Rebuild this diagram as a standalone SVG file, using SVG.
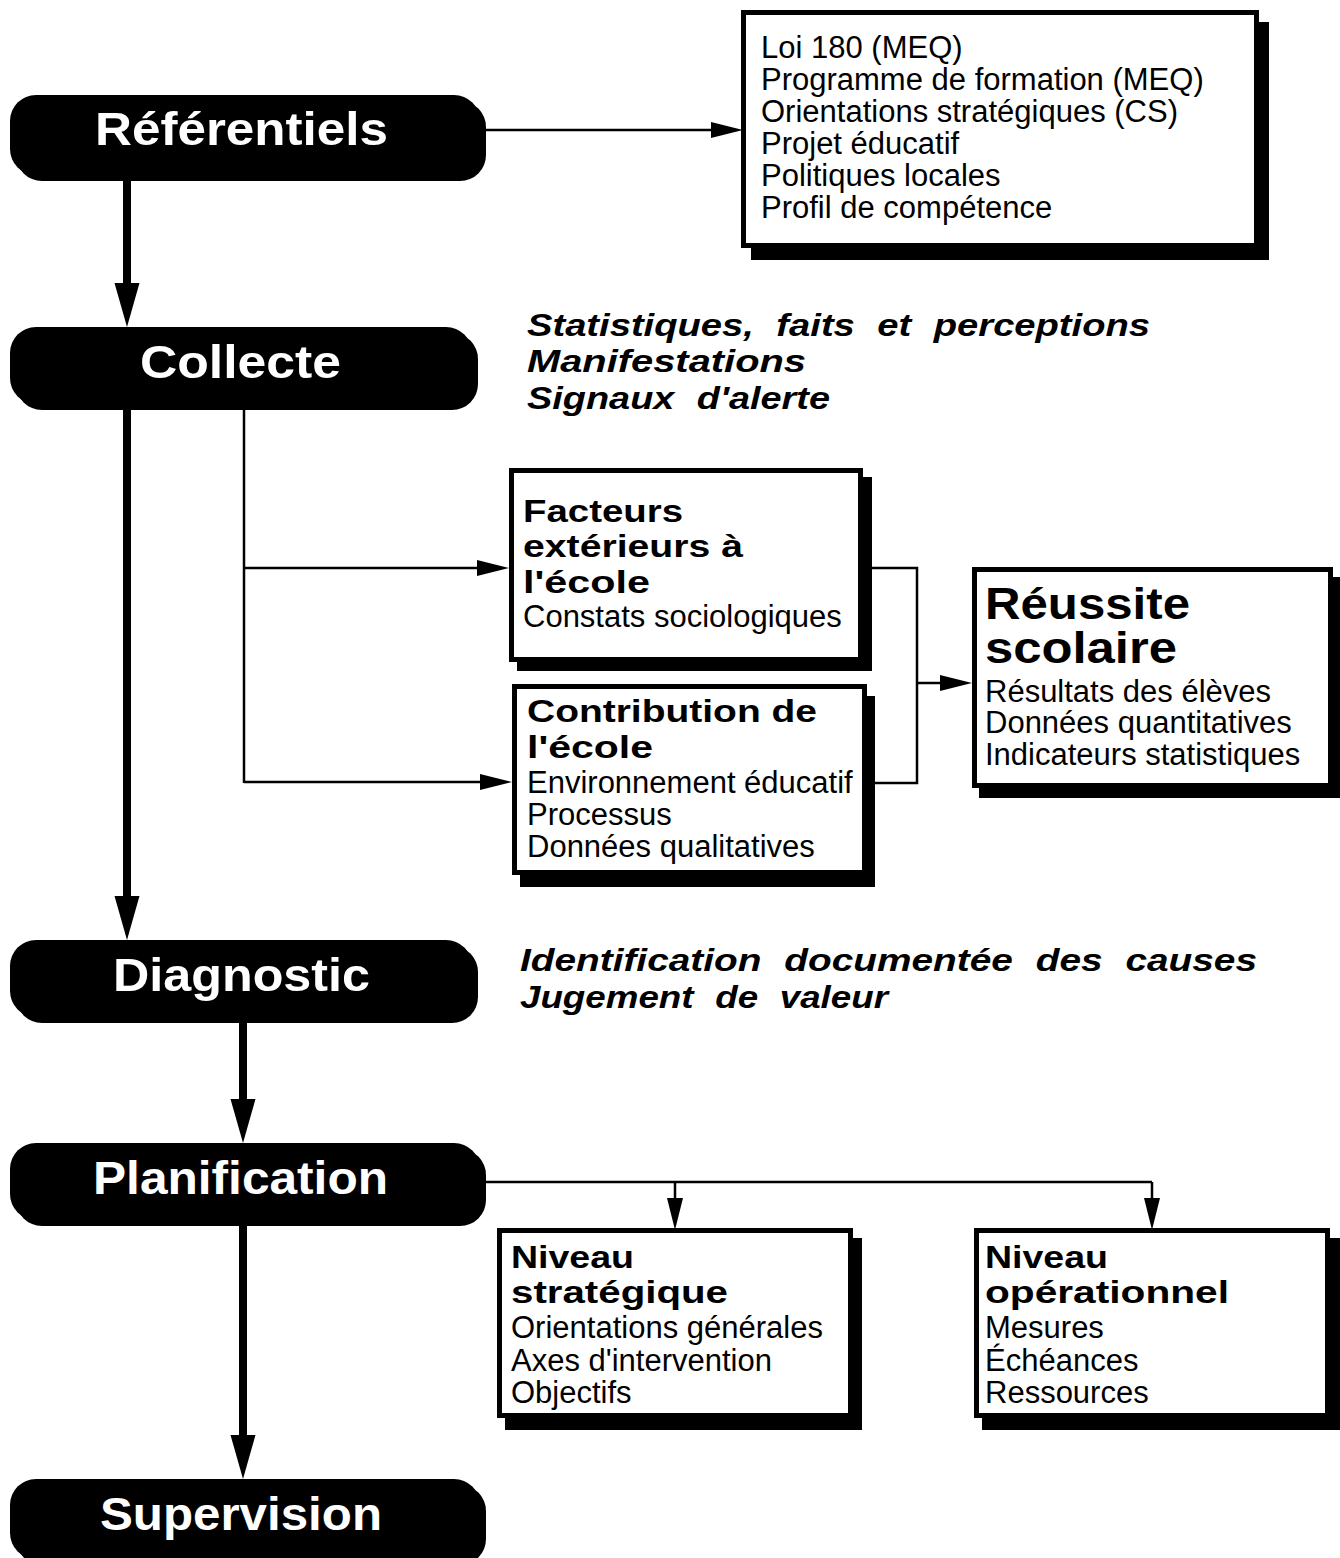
<svg xmlns="http://www.w3.org/2000/svg" width="1340" height="1558" viewBox="0 0 1340 1558">
<style>
.pill{fill:#000}
.pt{font-family:"Liberation Sans",Arial,Helvetica,sans-serif;font-weight:bold;font-size:46px;fill:#fff}
.box{fill:#fff;stroke:#000;stroke-width:5}
.sh{fill:#000}
.b{font-family:"Liberation Sans",Arial,Helvetica,sans-serif;font-weight:bold;font-size:31px;fill:#000}
.big{font-family:"Liberation Sans",Arial,Helvetica,sans-serif;font-weight:bold;font-size:44px;fill:#000}
.r{font-family:"Liberation Sans",Arial,Helvetica,sans-serif;font-size:31px;fill:#000}
.bi{font-family:"Liberation Sans",Arial,Helvetica,sans-serif;font-weight:bold;font-style:italic;font-size:32px;word-spacing:10px;fill:#000}
.thick{stroke:#000;stroke-width:8;fill:none}
.thin{stroke:#000;stroke-width:2.5;fill:none}
</style>
<defs>
<marker id="ah" markerUnits="userSpaceOnUse" markerWidth="44" markerHeight="26" refX="0" refY="12.5" orient="auto" overflow="visible">
<path d="M0,0 L44,12.5 L0,25 Z" fill="#000"/>
</marker>
<marker id="at" markerUnits="userSpaceOnUse" markerWidth="32" markerHeight="17" refX="0" refY="8" orient="auto" overflow="visible">
<path d="M0,0 L32,8 L0,16 Z" fill="#000"/>
</marker>
</defs>

<g id="connectors">
<path class="thick" d="M127,178 V283" marker-end="url(#ah)"/>
<path class="thick" d="M127,410 V896" marker-end="url(#ah)"/>
<path class="thick" d="M243,1022 V1099" marker-end="url(#ah)"/>
<path class="thick" d="M243,1226 V1435" marker-end="url(#ah)"/>
<path class="thin" d="M482,130 H711" marker-end="url(#at)"/>
<path class="thin" d="M244,410 V783"/>
<path class="thin" d="M244,568 H477" marker-end="url(#at)"/>
<path class="thin" d="M244,782 H480" marker-end="url(#at)"/>
<path class="thin" d="M863,568 H917 V783 H867"/>
<path class="thin" d="M917,683 H940" marker-end="url(#at)"/>
<path class="thin" d="M482,1182 H1152"/>
<path class="thin" d="M675,1182 V1198" marker-end="url(#at)"/>
<path class="thin" d="M1152,1182 V1198" marker-end="url(#at)"/>
</g>

<g id="referentiels">
<rect class="pill" x="16" y="101" width="470" height="80" rx="26"/>
<rect class="pill" x="10" y="95" width="470" height="80" rx="26"/>
<text class="pt" x="95" y="145" textLength="293" lengthAdjust="spacingAndGlyphs">Référentiels</text>
</g>
<g id="collecte">
<rect class="pill" x="16" y="333" width="462" height="77" rx="26"/>
<rect class="pill" x="10" y="327" width="462" height="77" rx="26"/>
<text class="pt" x="140" y="378" textLength="201" lengthAdjust="spacingAndGlyphs">Collecte</text>
</g>
<g id="diagnostic">
<rect class="pill" x="16" y="946" width="462" height="77" rx="26"/>
<rect class="pill" x="10" y="940" width="462" height="77" rx="26"/>
<text class="pt" x="113" y="991" textLength="257" lengthAdjust="spacingAndGlyphs">Diagnostic</text>
</g>
<g id="planification">
<rect class="pill" x="16" y="1149" width="470" height="77" rx="26"/>
<rect class="pill" x="10" y="1143" width="470" height="77" rx="26"/>
<text class="pt" x="93" y="1194" textLength="295" lengthAdjust="spacingAndGlyphs">Planification</text>
</g>
<g id="supervision">
<rect class="pill" x="16" y="1485" width="470" height="80" rx="26"/>
<rect class="pill" x="10" y="1479" width="470" height="80" rx="26"/>
<text class="pt" x="100" y="1530" textLength="282" lengthAdjust="spacingAndGlyphs">Supervision</text>
</g>

<g id="referentiels-list">
<rect class="sh" x="751" y="22" width="518" height="238"/>
<rect class="box" x="743.5" y="12.5" width="513" height="233"/>
<text class="r" x="761" y="58">Loi 180 (MEQ)</text>
<text class="r" x="761" y="90">Programme de formation (MEQ)</text>
<text class="r" x="761" y="122">Orientations stratégiques (CS)</text>
<text class="r" x="761" y="154">Projet éducatif</text>
<text class="r" x="761" y="186">Politiques locales</text>
<text class="r" x="761" y="218">Profil de compétence</text>
</g>

<g id="collecte-notes">
<text class="bi" x="527" y="336" textLength="623" lengthAdjust="spacingAndGlyphs">Statistiques, faits et perceptions</text>
<text class="bi" x="527" y="372" textLength="279" lengthAdjust="spacingAndGlyphs">Manifestations</text>
<text class="bi" x="527" y="409" textLength="303" lengthAdjust="spacingAndGlyphs">Signaux d'alerte</text>
</g>

<g id="facteurs">
<rect class="sh" x="517" y="477" width="355" height="194"/>
<rect class="box" x="511.5" y="470.5" width="349" height="189"/>
<text class="b" x="523" y="522" textLength="160" lengthAdjust="spacingAndGlyphs">Facteurs</text>
<text class="b" x="523" y="557" textLength="220" lengthAdjust="spacingAndGlyphs">extérieurs à</text>
<text class="b" x="523" y="593" textLength="127" lengthAdjust="spacingAndGlyphs">l'école</text>
<text class="r" x="523" y="627">Constats sociologiques</text>
</g>

<g id="contribution">
<rect class="sh" x="520" y="696" width="355" height="191"/>
<rect class="box" x="514.5" y="686.5" width="350" height="186"/>
<text class="b" x="527" y="722" textLength="290" lengthAdjust="spacingAndGlyphs">Contribution de</text>
<text class="b" x="527" y="758" textLength="126" lengthAdjust="spacingAndGlyphs">l'école</text>
<text class="r" x="527" y="793">Environnement éducatif</text>
<text class="r" x="527" y="825">Processus</text>
<text class="r" x="527" y="857">Données qualitatives</text>
</g>

<g id="reussite">
<rect class="sh" x="979" y="577" width="361" height="221"/>
<rect class="box" x="974.5" y="569.5" width="356" height="216"/>
<text class="big" x="985" y="619" textLength="205" lengthAdjust="spacingAndGlyphs">Réussite</text>
<text class="big" x="985" y="663" textLength="192" lengthAdjust="spacingAndGlyphs">scolaire</text>
<text class="r" x="985" y="702">Résultats des élèves</text>
<text class="r" x="985" y="733">Données quantitatives</text>
<text class="r" x="985" y="765">Indicateurs statistiques</text>
</g>

<g id="diagnostic-notes">
<text class="bi" x="520" y="971" textLength="737" lengthAdjust="spacingAndGlyphs">Identification documentée des causes</text>
<text class="bi" x="520" y="1008" textLength="368" lengthAdjust="spacingAndGlyphs">Jugement de valeur</text>
</g>

<g id="strategique">
<rect class="sh" x="505" y="1238" width="357" height="192"/>
<rect class="box" x="499.5" y="1230.5" width="351" height="185"/>
<text class="b" x="511" y="1268" textLength="123" lengthAdjust="spacingAndGlyphs">Niveau</text>
<text class="b" x="511" y="1303" textLength="217" lengthAdjust="spacingAndGlyphs">stratégique</text>
<text class="r" x="511" y="1338">Orientations générales</text>
<text class="r" x="511" y="1371">Axes d'intervention</text>
<text class="r" x="511" y="1403">Objectifs</text>
</g>

<g id="operationnel">
<rect class="sh" x="982" y="1238" width="358" height="192"/>
<rect class="box" x="976.5" y="1230.5" width="351" height="185"/>
<text class="b" x="985" y="1268" textLength="123" lengthAdjust="spacingAndGlyphs">Niveau</text>
<text class="b" x="985" y="1303" textLength="244" lengthAdjust="spacingAndGlyphs">opérationnel</text>
<text class="r" x="985" y="1338">Mesures</text>
<text class="r" x="985" y="1371">Échéances</text>
<text class="r" x="985" y="1403">Ressources</text>
</g>
</svg>
